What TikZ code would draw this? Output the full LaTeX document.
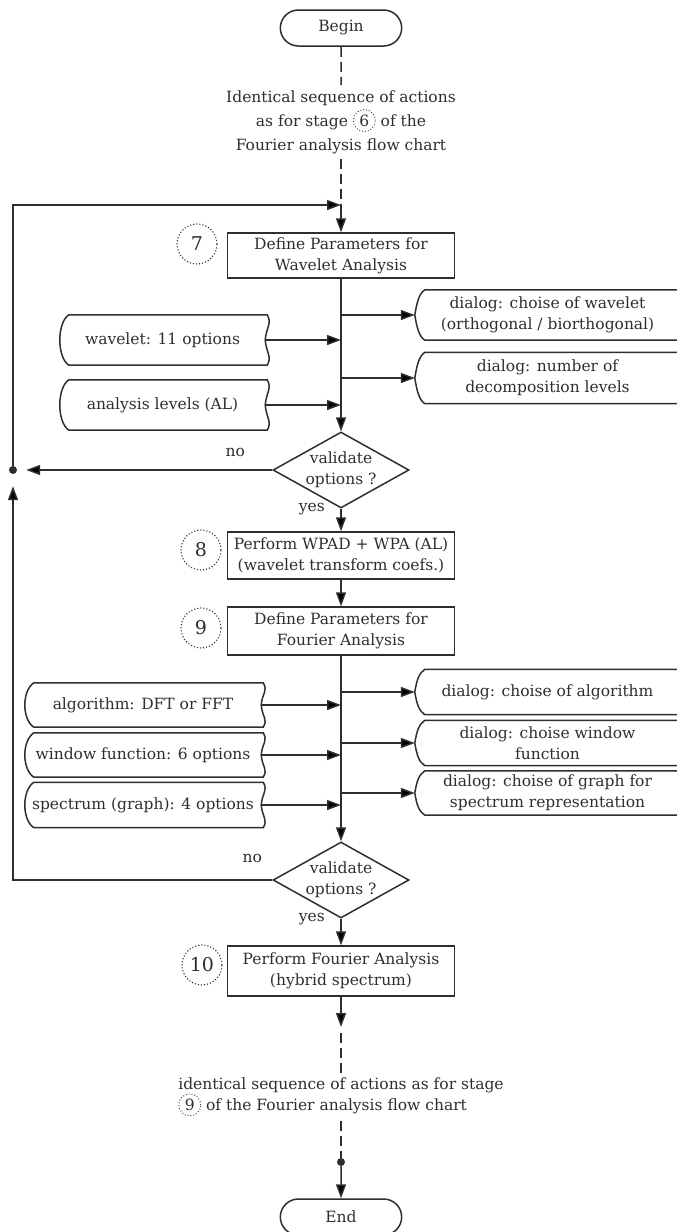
\documentclass[tikz,border=0pt]{standalone}
\usepackage{fontspec}
\setmainfont{DejaVu Serif}
\usetikzlibrary{arrows.meta,shapes.geometric,shapes.misc,positioning}
\definecolor{ink}{HTML}{2E2E2E}
\newcommand{\stg}[1]{\tikz[baseline=(sn.base)]\node[draw=ink, circle, dotted, line width=0.9pt, inner sep=1.5pt, minimum size=22pt] (sn) {#1};}
\tikzset{
  wire/.style={draw=ink, line width=1.5pt},
  arr/.style={wire, -{Triangle[length=14pt,width=10pt]}},
  dashes/.style={wire, dash pattern=on 10pt off 5pt},
  proc/.style={wire, rectangle, minimum width=227pt, minimum height=47pt, align=center, inner sep=2pt},
  term/.style={wire, rounded rectangle, minimum width=128pt, minimum height=36pt},
  stage/.style={draw=ink, circle, dotted, line width=1.1pt, minimum size=40pt, inner sep=0pt, font=\fontsize{19}{19}\selectfont},
  diam/.style={wire, diamond, minimum width=136pt, minimum height=76pt, inner sep=0pt},
  inbox/.style={rectangle, inner sep=0pt, align=center},
  dlg/.style={rectangle, minimum width=265pt, inner sep=0pt, align=center},
  lbl/.style={inner sep=0pt},
  jdot/.style={circle, fill=ink, inner sep=0pt, minimum size=8pt}
}
\begin{document}
\begin{tikzpicture}[x=1pt, y=-1pt, font=\fontsize{15.5}{21}\selectfont, text=ink]
  \useasboundingbox (0,0) rectangle (677,1232);
  \node[term] (begin) at (341,28) {Begin};
  \node[align=center, inner sep=5pt, font=\fontsize{15.5}{24}\selectfont] (t1) at (341,122)
    {Identical sequence of actions\\ as for stage \stg{6} of the\\ Fourier analysis flow chart};
  \coordinate (tj) at (341,205);
  % этап 7: параметры вейвлет-анализа
  \node[proc, minimum height=45pt] (b7) at (341,255.5) {Define Parameters for\\ Wavelet Analysis};
  \node[stage] (s7) at (197,244) {7};
  \node[diam, label={[align=center]center:validate\\ options ?}] (d1) at (341,470) {};
  \node[lbl] (no1) at ([xshift=-37pt,yshift=18pt]d1.west) {no};
  \node[lbl, anchor=east] (yes1) at ([xshift=-16pt]d1.south) {yes};
  \node[proc] (b8) at (341,555.5) {Perform WPAD + WPA (AL)\\ (wavelet transform coefs.)};
  \node[stage] (s8) at (201,550) {8};
  % этап 9: параметры Фурье-анализа
  \node[proc, minimum height=48pt] (b9) at (341,631) {Define Parameters for\\ Fourier Analysis};
  \node[stage] (s9) at (201,628) {9};
  \node[diam, label={[align=center]center:validate\\ options ?}] (d2) at (341,880) {};
  \node[lbl] (no2) at ([xshift=-20pt,yshift=22pt]d2.west) {no};
  \node[lbl, anchor=east] (yes2) at ([xshift=-16pt]d2.south) {yes};
  \node[proc, minimum height=50pt] (b10) at (341,971) {Perform Fourier Analysis\\ (hybrid spectrum)};
  \node[stage] (s10) at (202,965) {10};
  \coordinate (c1) at (341,1027);
  \node[align=left, inner sep=4pt] (t2) at (341,1097)
    {identical sequence of actions as for stage\\ \stg{9} of the Fourier analysis flow chart};
  \node[jdot] (bd) at (341,1162) {};
  \node[term] (end) at (341,1217) {End};
  % диалоги справа
  \foreach \n/\y/\h/\t in {dl1/315/50/{dialog: choise of wavelet\\ (orthogonal / biorthogonal)},
      dl2/378/51/{dialog: number of\\ decomposition levels}, dl3/692/45/{dialog: choise of algorithm},
      dl4/743/45/{dialog: choise window\\ function}, dl5/793/44/{dialog: choise of graph for\\ spectrum representation}}{
    \node[dlg, minimum height=\h pt] (\n) at (547.5,\y) {\t};
    \draw[wire] (\n.north east) -- ([xshift=10pt]\n.north west) .. controls +(-6,4) and +(2,-12) .. (\n.west)
      .. controls +(2,12) and +(-6,-4) .. ([xshift=10pt]\n.south west) -- (\n.south east);
  }
  % входные данные слева
  \foreach \n/\x/\w/\y/\h/\t in {in1/162.5/205/340/50/{wavelet: 11 options},
      in2/162.5/205/405/50/{analysis levels (AL)}, in3/143/236/705/44/{algorithm: DFT or FFT},
      in4/143/236/755/44/{window function: 6 options}, in5/143/236/805/45/{spectrum (graph): 4 options}}{
    \node[inbox, minimum width=\w pt, minimum height=\h pt] (\n) at (\x,\y) {\t};
    \draw[wire] ([xshift=9pt]\n.north west) -- ([xshift=2pt]\n.north east) .. controls +(5,8) and +(1,-12) .. (\n.east)
      .. controls +(1,12) and +(5,-8) .. ([xshift=2pt]\n.south east)
      -- ([xshift=9pt]\n.south west) .. controls +(-12,-8) and +(-12,8) .. ([xshift=9pt]\n.north west);
  }
  \node[jdot] (jn) at (13,470) {};
  \draw[dashes] (begin) -- (t1);
  \draw[dashes] (t1) -- (tj);
  \draw[arr] (tj) -- (b7);
  \draw[arr] (b7) -- (d1);
  \foreach \n in {dl1,dl2} \draw[arr] (b7.south |- \n.west) -- (\n.west);
  \foreach \n in {in1,in2} \draw[arr] (\n.east) -- (\n.east -| b7.south);
  \draw[arr, shorten >=9pt] (d1.west) -- (jn);
  \draw[arr] (jn) |- (tj);
  \draw[arr] (d1) -- (b8);
  \draw[arr] (b8) -- (b9);
  \draw[arr] (b9) -- (d2);
  \foreach \n in {dl3,dl4,dl5} \draw[arr] (b9.south |- \n.west) -- (\n.west);
  \foreach \n in {in3,in4,in5} \draw[arr] (\n.east) -- (\n.east -| b9.south);
  \draw[arr, shorten >=12pt] (d2.west) -| (jn);
  \draw[arr] (d2) -- (b10);
  \draw[arr] (b10) -- (c1);
  \draw[dashes] ([yshift=-6pt]c1) -- (t2);
  \draw[dashes] (t2) -- (bd);
  \draw[arr] (bd) -- (end);
\end{tikzpicture}
\end{document}
